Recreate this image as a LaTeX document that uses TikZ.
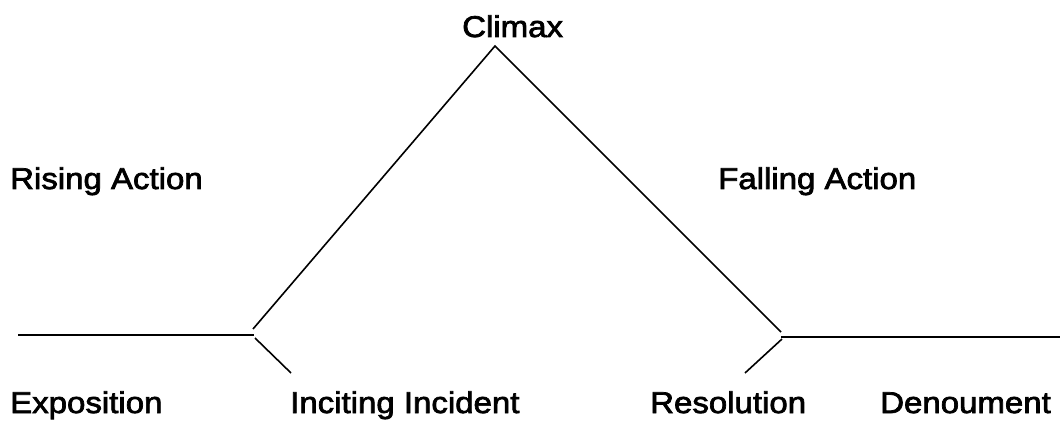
\documentclass[tikz,border=0pt]{standalone}
\usepackage{fontspec}
\setmainfont[FakeStretch=1.1]{Liberation Sans}
\begin{document}
\begin{tikzpicture}[x=1pt,y=-1pt,
  lbl/.style={inner sep=0pt,anchor=base west,font=\fontsize{30}{34}\selectfont\addfontfeature{FakeBold=2.4}},
  plot/.style={line width=1.6pt,black}]
\useasboundingbox (0,0) rectangle (1060,422);
% points
\coordinate (l0) at (18,335);
\coordinate (l1) at (254,335);
\coordinate (r0) at (253,329);
\coordinate (peak) at (495,46);
\coordinate (d1) at (781,332);
\coordinate (rh0) at (781,337);
\coordinate (rh1) at (1060,337);
\coordinate (ia) at (255,338);
\coordinate (ib) at (291,373);
\coordinate (ra) at (782,339);
\coordinate (rb) at (745,373);
\draw[plot] (l0) -- (l1);
\draw[plot] (r0) -- (peak) -- (d1);
\draw[plot] (rh0) -- (rh1);
\draw[plot] (ia) -- (ib);
\draw[plot] (ra) -- (rb);
% labels
\node[lbl] (climax) at (462,37) {Climax};
\node[lbl] (rising) at (10,189) {Rising Action};
\node[lbl] (falling) at (718,189) {Falling Action};
\node[lbl] (expo) at (10,413) {Exposition};
\node[lbl] (incite) at (290,413) {Inciting Incident};
\node[lbl] (resol) at (650,413) {Resolution};
\node[lbl] (denou) at (880,413) {Denoument};
\end{tikzpicture}
\end{document}
